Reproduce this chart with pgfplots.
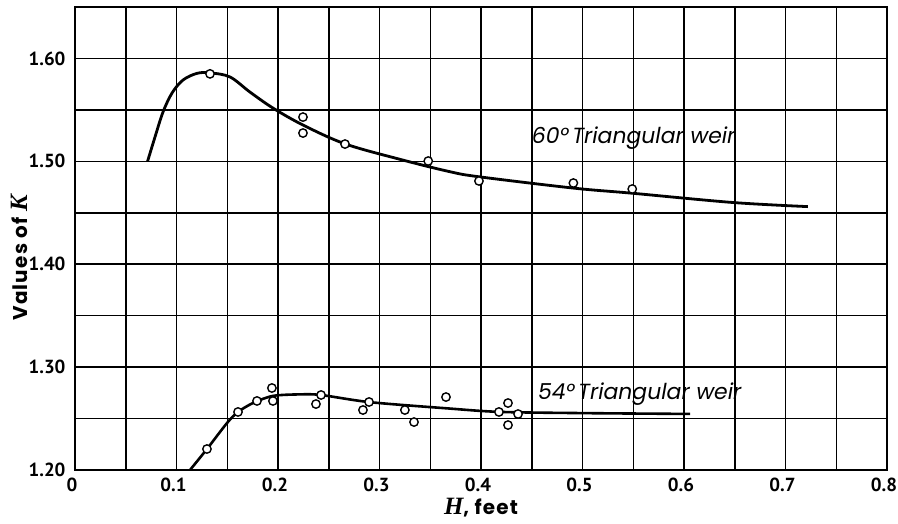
\documentclass[border=0pt]{standalone}
\usepackage{fontspec}
\setmainfont{PT Sans}
\newfontfamily\serifbi{Liberation Serif}
\newfontfamily\notefont{Poppins}
\newfontfamily\labelfont[LetterSpace=6]{Poppins}
\usepackage{pgfplots}
\pgfplotsset{compat=1.18}

\newcommand{\symb}[1]{{\fontsize{25}{25}\selectfont\serifbi\bfseries\itshape #1}}

\begin{document}
\begin{tikzpicture}
\begin{axis}[
  scale only axis,
  width=812bp, height=463bp,
  xmin=0, xmax=0.8, ymin=1.20, ymax=1.65,
  xtick={0,0.1,...,0.8},
  minor xtick={0.05,0.15,...,0.75},
  ytick={1.20,1.30,...,1.60},
  minor ytick={1.25,1.35,...,1.65},
  grid=both,
  major grid style={black, line width=1.5bp},
  minor grid style={black, line width=1.5bp},
  axis line style={black, line width=2.4bp},
  major tick length=0pt, minor tick length=0pt,
  /pgf/number format/assume math mode=true,
  xticklabel style={/pgf/number format/fixed, /pgf/number format/precision=1,
    font=\fontsize{19}{19}\selectfont\bfseries, anchor=center,
    yshift=-15bp, xshift=-3bp},
  yticklabel style={/pgf/number format/fixed, /pgf/number format/precision=2,
    /pgf/number format/fixed zerofill, font=\fontsize{19}{19}\selectfont\bfseries,
    anchor=east, xshift=-6bp},
  xlabel={\symb{H}, feet},
  ylabel={Values of \symb{K}},
  xlabel style={font=\fontsize{20}{20}\selectfont\labelfont\bfseries,
    at={(axis description cs:0.5,0)}, anchor=center, yshift=-38bp},
  ylabel style={font=\fontsize{20}{20}\selectfont\labelfont\bfseries,
    at={(axis description cs:-0.069,0.458)}, anchor=center},
  clip=false,
]
% fitted curve, 60 degree notch
\addplot[black, line width=2.8bp, smooth, tension=0.55] coordinates {
  (0.0715,1.500) (0.0788,1.5236) (0.0867,1.5479) (0.0956,1.5664) (0.1064,1.579)
  (0.1202,1.5855) (0.133,1.586) (0.1527,1.582) (0.1724,1.5673) (0.195,1.5518)
  (0.2246,1.5353) (0.266,1.517) (0.320,1.502) (0.369,1.490) (0.398,1.485)
  (0.491,1.474) (0.549,1.469) (0.648,1.460) (0.722,1.456)
};
% fitted curve, 54 degree notch
\addplot[black, line width=2.6bp, smooth, tension=0.5] coordinates {
  (0.1133,1.200) (0.130,1.2204) (0.1498,1.2457) (0.1606,1.2564) (0.1754,1.2651)
  (0.195,1.272) (0.2217,1.2735) (0.2424,1.2729) (0.29,1.266) (0.3655,1.260)
  (0.418,1.2565) (0.50,1.2553) (0.606,1.2545)
};
% measured values, 60 degree notch
\addplot[only marks, mark=*, mark size=4.2bp,
  mark options={fill=white, draw=black, line width=1.4bp}] coordinates {
  (0.133,1.585) (0.2246,1.543) (0.2246,1.5275) (0.266,1.5168) (0.348,1.5003)
  (0.398,1.4809) (0.491,1.4789) (0.549,1.4731)
};
% measured values, 54 degree notch
\addplot[only marks, mark=*, mark size=4.2bp,
  mark options={fill=white, draw=black, line width=1.4bp}] coordinates {
  (0.130,1.2204) (0.1606,1.2564) (0.1793,1.2671) (0.194,1.2797) (0.195,1.2671)
  (0.2374,1.2641) (0.2424,1.2729) (0.2837,1.2583) (0.2897,1.2661) (0.325,1.2583)
  (0.334,1.2466) (0.3655,1.2709) (0.4177,1.2564) (0.4266,1.2651) (0.4266,1.2437)
  (0.4365,1.2544)
};
\node[anchor=west, inner sep=0pt, font=\fontsize{22}{22}\selectfont\notefont\itshape]
  at (axis cs:0.450,1.523) {60\textdegree\,Triangular weir};
\node[anchor=west, inner sep=0pt, font=\fontsize{22}{22}\selectfont\notefont\itshape]
  at (axis cs:0.456,1.2735) {54\textdegree\,Triangular weir};
\end{axis}
% page frame: fixed margins around the plot area
\pgfresetboundingbox
\path (current axis.south west) ++(-75bp,-53bp) coordinate (bbsw);
\path (current axis.north east) ++(11bp,7bp) coordinate (bbne);
\path[use as bounding box] (bbsw) rectangle (bbne);
\end{tikzpicture}
\end{document}
